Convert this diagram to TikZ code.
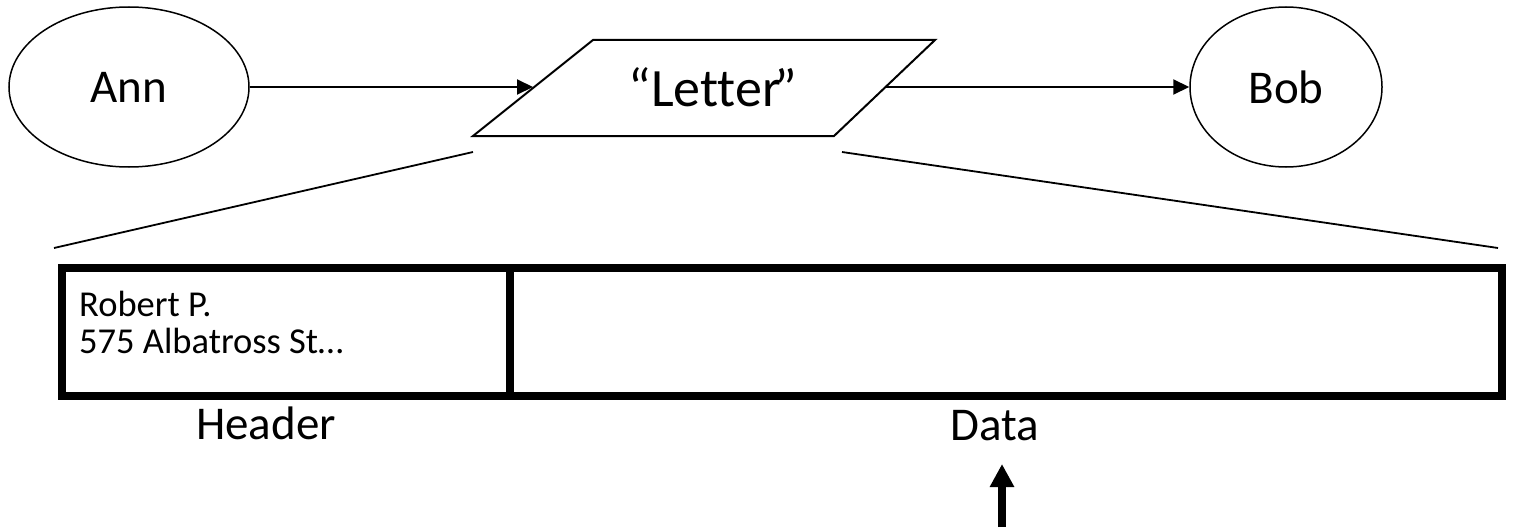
\documentclass[tikz,border=0pt]{standalone}
\usepackage{fontspec}
\setmainfont{Carlito}[Ligatures=NoCommon]
\usetikzlibrary{shapes.geometric,arrows.meta}
\begin{document}
\begin{tikzpicture}[x=1pt,y=-1pt,
  ell/.style={draw,ellipse,line width=1.5pt,minimum height=160pt,inner sep=0pt},
  conn/.style={line width=2pt,-{Triangle[length=16pt,width=15pt]}},
  slantline/.style={line width=1.8pt},
  cell/.style={draw,line width=8pt,minimum height=128pt,inner sep=0pt,anchor=north west},
  big/.style={font=\fontsize{47}{56}\selectfont},
  ]
\useasboundingbox (0,0) rectangle (1514,527);
% actors
\node[ell,minimum width=240pt,big] (ann) at (129,87) {Ann};
\node[ell,minimum width=192pt,big] (bob) at (1286,87) {Bob};
% letter parallelogram
\coordinate (pBL) at (473,136);
\coordinate (pTL) at (593,40);
\coordinate (pTR) at (935,40);
\coordinate (pBR) at (834,136);
\draw[line width=2pt,line join=miter] (pBL) -- (pTL) -- (pTR) -- (pBR) -- cycle;
\node[font=\fontsize{54}{60}\selectfont,inner sep=0pt,anchor=base] (letter) at (713,106) {“Letter\kern-6pt”};
\coordinate (pL) at (533,87);
\coordinate (pR) at (885,87);
\draw[conn] (ann.east) -- (pL);
\draw[conn] (pR) -- (bob.west);
% zoom lines
\coordinate (lA) at (473,152);
\coordinate (lB) at (54,248);
\coordinate (rA) at (842,152);
\coordinate (rB) at (1498,248);
\draw[slantline] (lA) -- (lB);
\draw[slantline] (rA) -- (rB);
% packet
\node[cell,minimum width=448pt] (header) at (58,264) {};
\node[cell,minimum width=992pt] (data) at (506,264) {};
\node[anchor=base west,align=left,font=\fontsize{36.5}{37}\selectfont,inner sep=0pt] (addr) at (79,353) {Robert P.\\575 Albatross St…};
\node[big,anchor=base,inner sep=0pt] (hlabel) at (266,439) {Header};
\node[big,anchor=base,inner sep=0pt] (dlabel) at (995,440) {Data};
% pointer arrow
\coordinate (up0) at (1002,527);
\coordinate (up1) at (1002,464);
\draw[line width=8pt,-{Triangle[length=23pt,width=23pt]}] (up0) -- (up1);
\end{tikzpicture}
\end{document}
